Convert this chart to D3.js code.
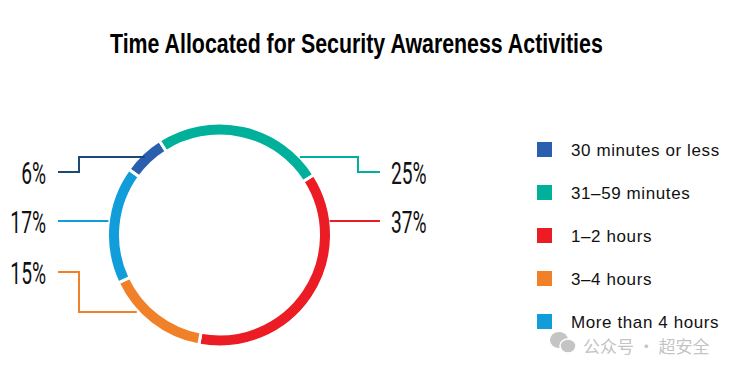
<!DOCTYPE html>
<html>
<head>
<meta charset="utf-8">
<script src="https://cdn.jsdelivr.net/npm/d3@7"></script>
<style>
  body { margin: 0; background: #fff; }
  svg { display: block; }
</style>
</head>
<body>
<div id="chart"></div>
<script>
// data
var categories = ['30 minutes or less', '31\u201359 minutes', '1\u20132 hours', '3\u20134 hours', 'More than 4 hours'];
var values = [6, 25, 37, 15, 17];
var labels = ['6%', '25%', '37%', '15%', '17%'];
var colors = ['#2a5fb0', '#00b09b', '#ec1c24', '#f08129', '#109dd9'];
var lineColors = ['#1b4a78', '#00b09b', '#ec1c24', '#f08129', '#109dd9'];

var width = 750, height = 370;
var cx = 219.5, cy = 235, outerR = 112, innerR = 99;

var svg = d3.select('#chart').append('svg')
  .attr('width', width)
  .attr('height', height);

// title, squeezed to look like a condensed bold face
var title = svg.append('text')
  .attr('x', 0)
  .attr('y', 53)
  .style('font-family', 'Liberation Sans, Arial, sans-serif')
  .style('font-weight', 'bold')
  .style('font-size', '28px')
  .attr('fill', '#000')
  .text('Time Allocated for Security Awareness Activities');
var tw = title.node().getComputedTextLength();
var sx = 493 / tw;
title.attr('transform', 'translate(110,0) scale(' + sx + ',1)');

var startDeg = -54.1;
var pie = d3.pie()
  .sort(null)
  .startAngle(startDeg * Math.PI / 180)
  .endAngle((startDeg + 360) * Math.PI / 180);

var arc = d3.arc()
  .innerRadius(innerR)
  .outerRadius(outerR);

var arcs = pie(values);

var g = svg.append('g')
  .attr('transform', 'translate(' + cx + ',' + cy + ')');

g.selectAll('path')
  .data(arcs)
  .enter().append('path')
  .attr('d', arc)
  .attr('fill', function (d, i) { return colors[i]; })
  .attr('stroke', '#fff')
  .attr('stroke-width', 3);

// leader lines: leave the ring at y0 (radius r), elbow, then run to the label at y
var leaders = [
  { side: -1, y0: 157, r: 108, elbow: 79, y: 172 },
  { side: 1, y0: 157, r: 112, elbow: 358, y: 172 },
  { side: 1, y0: 221, r: 111, elbow: null, y: 221 },
  { side: -1, y0: 312, r: 113, elbow: 79, y: 272 },
  { side: -1, y0: 221, r: 112, elbow: null, y: 221 }
];
var lineEnd = { '-1': 58, '1': 380 };

arcs.forEach(function (d, i) {
  var L = leaders[i];
  var dy = L.y0 - cy;
  var x0 = cx + L.side * Math.sqrt(L.r * L.r - dy * dy);
  var pts;
  if (L.elbow === null) {
    pts = [[x0, L.y], [lineEnd[L.side], L.y]];
  } else {
    pts = [[x0, L.y0], [L.elbow, L.y0], [L.elbow, L.y], [lineEnd[L.side], L.y]];
  }
  svg.append('path')
    .attr('d', d3.line()(pts))
    .attr('fill', 'none')
    .attr('stroke', lineColors[i])
    .attr('stroke-width', 2);

  // condensed numbers
  var tx = L.side < 0 ? 46 : 391;
  var t = svg.append('text')
    .attr('x', 0)
    .attr('y', 0)
    .attr('text-anchor', L.side < 0 ? 'end' : 'start')
    .style('font-family', 'Roboto, Liberation Sans, sans-serif')
    .style('font-weight', 400)
    .style('font-size', '32px')
    .attr('fill', '#111')
    .text(labels[i]);
  t.attr('transform', 'translate(' + tx + ',' + (L.y + 11.5) + ') scale(0.6,1)');
});

// legend
var legend = svg.append('g')
  .attr('transform', 'translate(537,142)');

var rows = legend.selectAll('g')
  .data(categories)
  .enter().append('g')
  .attr('transform', function (d, i) { return 'translate(0,' + (i * 43) + ')'; });

rows.append('rect')
  .attr('width', 15)
  .attr('height', 15)
  .attr('fill', function (d, i) { return colors[i]; });

rows.append('text')
  .attr('x', 34)
  .attr('y', 14)
  .style('font-family', 'Liberation Sans, Arial, sans-serif')
  .style('font-size', '17px')
  .style('letter-spacing', '0.6px')
  .attr('fill', '#111')
  .text(function (d) { return d; });

// watermark
var wm = svg.append('g').attr('fill', '#c4c4c4');
wm.append('ellipse').attr('cx', 559).attr('cy', 340).attr('rx', 9).attr('ry', 8);
wm.append('ellipse').attr('cx', 568).attr('cy', 346).attr('rx', 8).attr('ry', 7)
  .attr('stroke', '#fff').attr('stroke-width', 1.5);
wm.append('text')
  .attr('x', 583)
  .attr('y', 353)
  .style('font-family', 'Noto Sans CJK SC, sans-serif')
  .style('font-size', '17px')
  .text('公众号 · 超安全');
</script>
</body>
</html>
